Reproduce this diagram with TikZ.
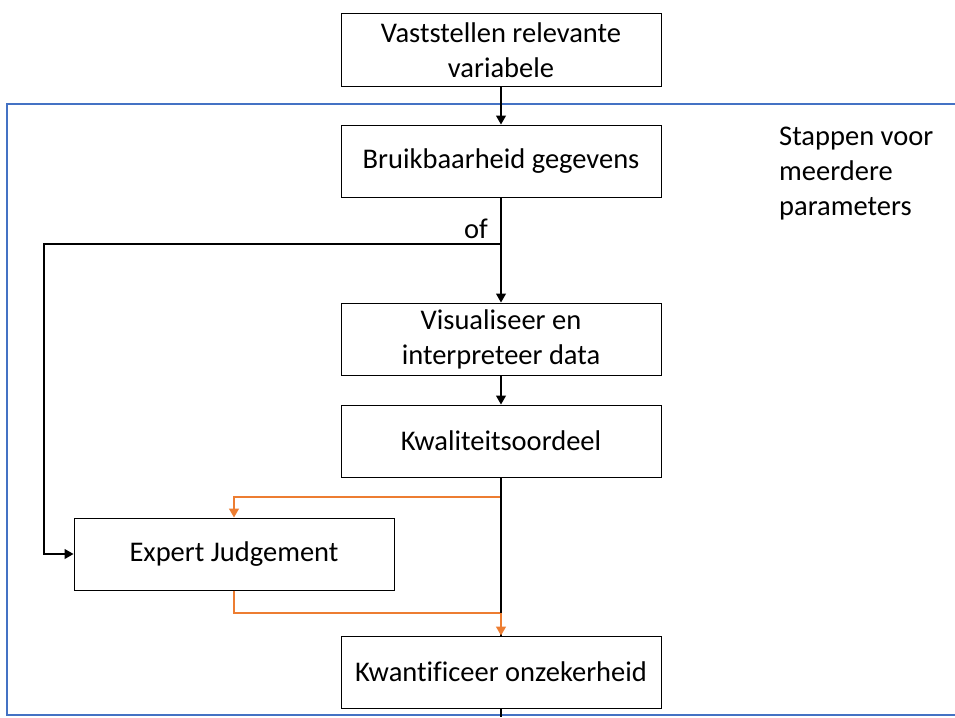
\documentclass[tikz,border=0pt]{standalone}
\usepackage{fontspec}
\setmainfont{Carlito}[Ligatures=NoCommon]
\usetikzlibrary{arrows.meta}
\definecolor{frameblue}{HTML}{4472C4}
\definecolor{flowor}{HTML}{ED7D31}
\tikzset{
  stepbox/.style={draw=black, line width=1pt, fill=white, minimum width=320pt,
    minimum height=72pt, align=center, inner sep=0pt,
    font=\fontsize{28.5}{35}\selectfont},
  flow/.style={draw=black, line width=1.1pt, -{Triangle[width=10pt,length=9pt]}},
  plain/.style={draw=black, line width=1.1pt},
  altflow/.style={color=flowor, line width=1.4pt, -{Triangle[width=10pt,length=9pt]}},
  altplain/.style={color=flowor, line width=1.4pt},
  lbl/.style={font=\fontsize{28.5}{35}\selectfont, inner sep=0pt}
}
\begin{document}
\begin{tikzpicture}[x=1pt,y=-1pt]
\useasboundingbox (0,0) rectangle (955,717);
% frame around the repeated steps
\draw[frameblue, line width=1.2pt] (955,104) -- (7,104) -- (7,715) -- (955,715);
\node[lbl, align=left, anchor=north west] (note) at (779,127)
  {Stappen voor\\meerdere\\parameters};

% boxes
\node[stepbox] (vast) at (501,50) {Vaststellen relevante\\variabele};
\node[stepbox] (bruik) at (501,161) {Bruikbaarheid gegevens};
\node[stepbox] (visual) at (501,339) {Visualiseer en\\interpreteer data};
\node[stepbox] (kwal) at (501,441) {Kwaliteitsoordeel};
\node[stepbox] (expert) at (234,554) {Expert Judgement};
\node[stepbox] (kwant) at (501,672) {Kwantificeer onzekerheid};

% junction points
\coordinate (split) at (501,244);
\coordinate (leftcorner) at (44,244);
\coordinate (kwalsplit) at (501,497);
\coordinate (exmerge) at (501,613);
\coordinate (below) at (501,717);

% orange route through expert judgement
\draw[altplain] (kwal.south) -- (kwalsplit);
\draw[altflow] (kwalsplit) -| (expert.north);
\draw[altplain] (expert.south) |- (exmerge);

% main flow
\draw[flow] (vast) -- (bruik);
\draw[plain] (bruik) -- (split);
\draw[flow] (split) -- (visual);
\draw[flow] (visual) -- (kwal);
\draw[plain] (kwal) -- (kwant);
\draw[plain] (kwant) -- (below);
\draw[altflow] (exmerge) -- (kwant.north);

% alternative route to expert judgement
\draw[flow] (split) -- (leftcorner) |- (expert);
\node[lbl, anchor=south east] (of) at (488,239) {of};
\end{tikzpicture}
\end{document}
